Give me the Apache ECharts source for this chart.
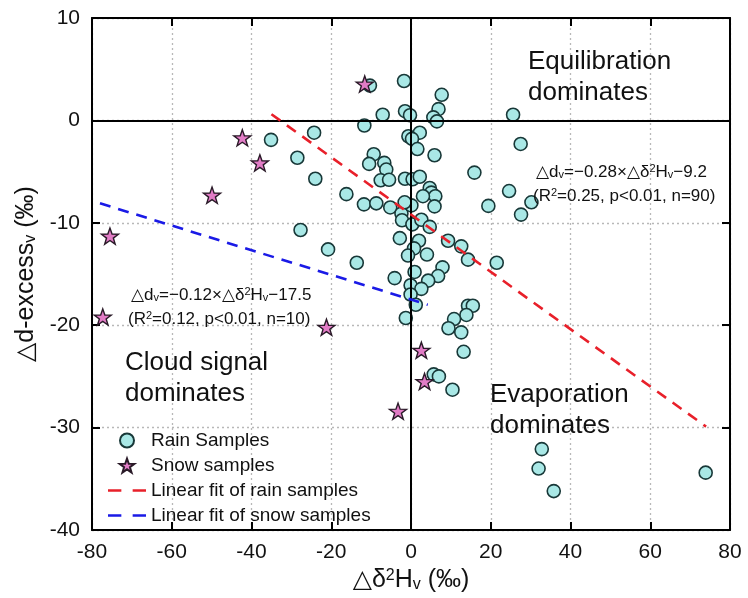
<!DOCTYPE html>
<html>
<head>
<meta charset="utf-8">
<script src="https://cdn.jsdelivr.net/npm/echarts@6/dist/echarts.min.js"></script>
<style>html,body{margin:0;padding:0;background:#fff}#c{width:748px;height:598px}</style>
</head>
<body>
<div id="c"></div>
<script>
// ---- data ----
const xTicks = [-80, -60, -40, -20, 0, 20, 40, 60, 80];
const yTicks = [-40, -30, -20, -10, 0, 10];
const rainX = [-1.75,-10.3,7.7,6.9,5.6,6.5,-1.5,-0.25,-7.1,-11.7,-24.3,-35.1,-28.5,-24.0,2.2,-0.65,0.25,1.6,5.9,15.9,
  -9.35,-10.5,-6.7,-6.2,-7.6,-5.5,-1.5,0.4,2.2,4.7,5.1,6.1,3.0,-16.2,25.6,27.5,24.6,30.2,27.6,19.4,
  21.5,-11.8,-8.7,-5.2,-2.4,-2.25,0.1,0.35,5.9,2.6,4.7,-2.8,2.0,0.75,-0.75,4.0,9.3,12.6,14.3,-27.7,
  -20.8,-13.6,-4.1,0.9,7.9,6.8,4.3,-0.1,2.6,-0.1,1.2,-1.3,14.3,15.5,13.9,10.8,9.4,12.6,13.2,5.7,
  7.0,10.4,32.8,32.0,35.8,73.9,-1.6];
const rainY = [3.85,3.4,2.5,1.1,0.3,-0.1,0.9,0.5,0.55,-0.5,-1.2,-1.9,-3.65,-5.7,-1.2,-1.55,-1.8,-2.8,-3.4,-5.1,
  -3.3,-4.25,-4.15,-4.8,-5.85,-5.8,-5.7,-5.75,-5.5,-6.6,-7.05,-7.4,-7.4,-7.2,0.55,-2.3,-6.9,-8.0,-9.2,-8.35,
  -13.9,-8.2,-8.1,-8.5,-9.1,-9.75,-8.3,-10.15,-8.4,-9.7,-10.4,-11.5,-11.75,-12.5,-13.2,-13.1,-11.75,-12.3,-13.6,-10.7,
  -12.6,-13.9,-15.4,-14.8,-14.35,-15.2,-15.65,-16.1,-16.45,-17.0,-18.0,-19.3,-18.1,-18.1,-19.0,-19.4,-20.3,-20.7,-22.6,-24.8,
  -25.0,-26.3,-32.1,-34.0,-36.2,-34.4,-8.0];
const snowX = [-11.6,-42.3,-37.9,-49.9,-75.5,-77.3,-21.2,2.6,3.4,-3.25];
const snowY = [3.55,-1.7,-4.15,-7.3,-11.3,-19.2,-20.2,-22.45,-25.5,-28.4];
const rainFitX = [-35, 74];
const rainFitY = [0.6, -29.9];
const snowFitX = [-78, 4.2];
const snowFitY = [-8.1, -18.0];
const seriesNames = ['Rain Samples', 'Snow samples', 'Linear fit of rain samples', 'Linear fit of snow samples'];

const zip = (a, b) => a.map((v, i) => [v, b[i]]);
const FONT = '"Liberation Sans", Arial, "DejaVu Sans", sans-serif';
const STAR = 'path://M100,0 L123.5,67.6 L195.1,69.1 L138,112.4 L158.8,180.9 L100,140 L41.2,180.9 L62,112.4 L4.9,69.1 L76.5,67.6 Z';
const DASH_ICON = 'path://M0,0H13V2.6H0Z M24,0H37V2.6H24Z';

const chart = echarts.init(document.getElementById('c'), null, {renderer: 'canvas'});

function richFor(size) {
  const small = Math.round(size * 0.62);
  return {
    s: {fontSize: small, fontFamily: FONT, fill: '#111', color: '#111', verticalAlign: 'bottom'},
    p: {fontSize: small, fontFamily: FONT, fill: '#111', color: '#111', verticalAlign: 'top'}
  };
}
function txt(x, y, text, size) {
  return {
    type: 'text', x: x, y: y, z: 50,
    style: {text: text, fill: '#111', fontSize: size, fontFamily: FONT, verticalAlign: 'middle', align: 'left', rich: richFor(size)}
  };
}

const axisLineStyle = {color: '#000', width: 2};
const splitStyle = {color: '#b8b8b8', width: 1.3, type: [2, 3]};

const option = {
  animation: false,
  backgroundColor: '#fff',
  textStyle: {fontFamily: FONT},
  grid: {left: 92, right: 18, top: 18, bottom: 65, containLabel: false},
  xAxis: [{
    type: 'value', min: -80, max: 80, interval: 20, position: 'bottom',
    axisLine: {show: true, onZero: false, lineStyle: axisLineStyle},
    axisTick: {show: true, inside: true, length: 8, lineStyle: {color: '#000', width: 2}},
    axisLabel: {color: '#111', fontSize: 21, fontFamily: FONT, margin: 12},
    splitLine: {show: true, lineStyle: splitStyle},
    name: '△δ{p|2}H{s|v} (‰)', nameLocation: 'middle', nameGap: 38,
    nameTextStyle: {fontSize: 25, fontFamily: FONT, color: '#111', rich: richFor(25)}
  }, {
    type: 'value', min: -80, max: 80, interval: 20, position: 'top',
    axisLine: {show: true, onZero: false, lineStyle: axisLineStyle},
    axisTick: {show: true, inside: true, length: 8, lineStyle: {color: '#000', width: 2}},
    axisLabel: {show: false}, splitLine: {show: false}
  }],
  yAxis: [{
    type: 'value', min: -40, max: 10, interval: 10, position: 'left',
    axisLine: {show: true, onZero: false, lineStyle: axisLineStyle},
    axisTick: {show: true, inside: true, length: 8, lineStyle: {color: '#000', width: 2}},
    axisLabel: {color: '#111', fontSize: 21, fontFamily: FONT, margin: 12},
    splitLine: {show: true, lineStyle: splitStyle},
    name: '△d-excess{s|v} (‰)', nameLocation: 'middle', nameGap: 53, nameRotate: 90,
    nameTextStyle: {fontSize: 25, fontFamily: FONT, color: '#111', rich: richFor(25)}
  }, {
    type: 'value', min: -40, max: 10, interval: 10, position: 'right',
    axisLine: {show: true, onZero: false, lineStyle: axisLineStyle},
    axisTick: {show: true, inside: true, length: 8, lineStyle: {color: '#000', width: 2}},
    axisLabel: {show: false}, splitLine: {show: false}
  }],
  legend: {
    orient: 'vertical', left: 103, top: 426, itemWidth: 38, itemHeight: 14, itemGap: 6,
    data: [
      {name: seriesNames[0]},
      {name: seriesNames[1]},
      {name: seriesNames[2], icon: DASH_ICON},
      {name: seriesNames[3], icon: DASH_ICON}
    ],
    textStyle: {fontSize: 19, fontFamily: FONT, color: '#111'},
    backgroundColor: 'transparent'
  },
  series: [{
    type: 'scatter', name: 'zero', data: [], z: 1, silent: true,
    markLine: {
      silent: true, symbol: 'none', label: {show: false},
      lineStyle: {color: '#000', width: 2, type: 'solid'},
      data: [{xAxis: 0}, {yAxis: 0}]
    }
  }, {
    type: 'scatter', name: seriesNames[0], data: zip(rainX, rainY), z: 3,
    symbol: 'circle', symbolSize: 13,
    itemStyle: {color: '#a9e8e6', borderColor: '#183838', borderWidth: 1.6, opacity: 1}
  }, {
    type: 'scatter', name: seriesNames[1], data: zip(snowX, snowY), z: 4,
    symbol: STAR, symbolSize: 17, symbolKeepAspect: true,
    itemStyle: {color: '#e27cc6', borderColor: '#2a1a28', borderWidth: 1.4, opacity: 1}
  }, {
    type: 'line', name: seriesNames[2], data: zip(rainFitX, rainFitY), z: 5,
    symbol: 'none', showSymbol: false,
    lineStyle: {color: '#e8202a', width: 2.6, type: [11, 8]},
    itemStyle: {color: '#e8202a', borderWidth: 0}
  }, {
    type: 'line', name: seriesNames[3], data: zip(snowFitX, snowFitY), z: 5,
    symbol: 'none', showSymbol: false,
    lineStyle: {color: '#1a1ae6', width: 2.6, type: [11, 8]},
    itemStyle: {color: '#1a1ae6', borderWidth: 0}
  }],
  graphic: [
    txt(528, 62, 'Equilibration', 26),
    txt(528, 93, 'dominates', 26),
    txt(125, 363, 'Cloud signal', 26),
    txt(125, 394, 'dominates', 26),
    txt(490, 395, 'Evaporation', 26),
    txt(490, 426, 'dominates', 26),
    txt(536, 172, '△d{s|v}=−0.28×△δ{p|2}H{s|v}−9.2', 17),
    txt(533, 196, '(R{p|2}=0.25, p<0.01, n=90)', 17),
    txt(131, 295, '△d{s|v}=−0.12×△δ{p|2}H{s|v}−17.5', 17),
    txt(128, 319, '(R{p|2}=0.12, p<0.01, n=10)', 17)
  ]
};
chart.setOption(option);
</script>
</body>
</html>
